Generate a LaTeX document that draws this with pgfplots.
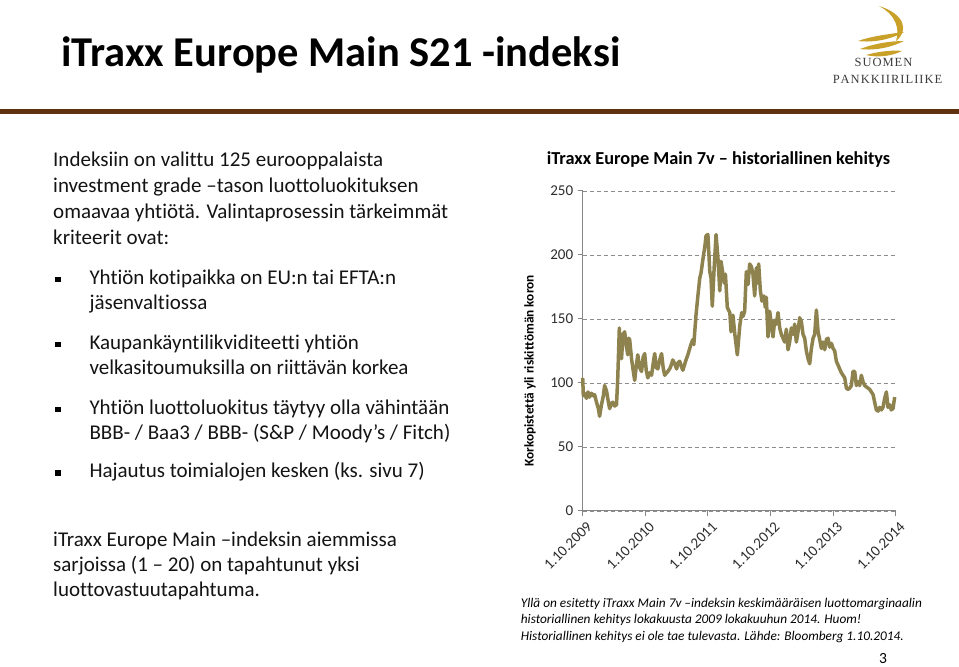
\documentclass[border=0pt]{standalone}
\usepackage{fontspec}
\setmainfont{Carlito}[Ligatures=CommonOff]
\newfontfamily\logofont{Liberation Serif}
\usepackage{pgfplots}
\pgfplotsset{compat=1.18}
\definecolor{olive}{RGB}{142,131,78}
\definecolor{gridc}{RGB}{140,140,140}
\definecolor{axisc}{RGB}{134,134,134}
\definecolor{tickc}{RGB}{45,45,45}
\definecolor{rulec}{RGB}{95,50,15}
\definecolor{gold}{RGB}{201,160,40}
\definecolor{logogray}{RGB}{60,60,60}
\begin{document}
\begin{tikzpicture}[x=1pt,y=1pt]
\fill[white] (0,0) rectangle (959,667);
% header
\node[anchor=base west,inner sep=0] at (61,600) {\fontsize{42.5}{48}\selectfont\bfseries iTraxx Europe Main S21 -indeksi};
\fill[rulec] (0,552.5) rectangle (959,557.5);
% logo
\fill[gold] (879,661) .. controls (905,653) and (909,636) .. (896,626) .. controls (900,638) and (896,652) .. (879,661) -- cycle;
\fill[gold] (858,626) .. controls (872,631) and (890,633) .. (904,635) .. controls (892,628) and (874,624) .. (858,626) -- cycle;
\fill[gold] (860,618) .. controls (876,624) and (892,626) .. (904,626) .. controls (892,620) and (876,616) .. (860,618) -- cycle;
\fill[gold] (866,612) .. controls (880,616) and (894,617) .. (902,616) .. controls (892,611) and (878,609) .. (866,612) -- cycle;
\node[anchor=base,inner sep=0,text=logogray] at (883.5,600) {\logofont\fontsize{12.5}{13}\selectfont S\kern1pt U\kern1pt O\kern1pt M\kern1pt E\kern1pt N};
\node[anchor=base,inner sep=0,text=logogray] at (887.5,583.5) {\logofont\fontsize{12.5}{13}\selectfont P\kern1pt A\kern1pt N\kern1pt K\kern1pt K\kern1pt I\kern1pt I\kern1pt R\kern1pt I\kern1pt L\kern1pt I\kern1pt I\kern1pt K\kern1pt E};
% body text
\begin{scope}[every node/.style={anchor=base west,inner sep=0,font=\fontsize{21}{24}\selectfont,text={rgb,255:red,20;green,20;blue,20}}]
\node at (53,500) {Indeksiin on valittu 125 eurooppalaista};
\node at (53,474) {investment grade –tason luottoluokituksen};
\node at (53,448) {omaavaa yhtiötä. Valintaprosessin tärkeimmät};
\node at (53,422) {kriteerit ovat:};
\node at (89.3,382) {Yhtiön kotipaikka on EU:n tai EFTA:n};
\node at (89.3,357) {jäsenvaltiossa};
\node at (89.3,317) {Kaupankäyntilikviditeetti yhtiön};
\node at (89.3,292) {velkasitoumuksilla on riittävän korkea};
\node at (89.3,252) {Yhtiön luottoluokitus täytyy olla vähintään};
\node at (89.3,227) {BBB- / Baa3 / BBB- (S\&P / Moody’s / Fitch)};
\node at (89.3,189) {Hajautus toimialojen kesken (ks. sivu 7)};
\node at (53,120.3) {iTraxx Europe Main –indeksin aiemmissa};
\node at (53,95.3) {sarjoissa (1 – 20) on tapahtunut yksi};
\node at (53,70.3) {luottovastuutapahtuma.};
\end{scope}
\foreach \yy in {384.5,319.5,254.5,191} {\fill[black] (55,\yy) rectangle (60.5,\yy+5.5);}
% chart title and label
\node[anchor=base,inner sep=0] at (718.5,502.7) {\fontsize{18.3}{20}\selectfont\bfseries iTraxx Europe Main 7v – historiallinen kehitys};
\node[rotate=90,inner sep=0] at (530,296) {\fontsize{13.3}{15}\selectfont\bfseries Korkopistettä yli riskittömän koron};
% chart
\begin{axis}[at={(582.7pt,156pt)}, anchor=south west, scale only axis,
  width=313pt, height=320pt,
  xmin=0, xmax=5, ymin=0, ymax=250,
  xtick={0,1,2,3,4,5},
  xticklabels={1.10.2009,1.10.2010,1.10.2011,1.10.2012,1.10.2013,1.10.2014},
  ytick={0,50,100,150,200,250},
  axis x line*=bottom, axis y line*=left,
  axis line style={axisc, line width=1pt, -},
  tick align=outside, major tick length=5pt,
  tick style={axisc, line width=1pt},
  ymajorgrids, major grid style={gridc, line width=0.9pt, dash pattern=on 4pt off 3pt},
  /pgf/number format/assume math mode=true,
  ticklabel style={text=tickc},
  yticklabel style={font=\fontsize{15}{17}\selectfont, xshift=-1pt},
  xticklabel style={font=\fontsize{15}{17}\selectfont, rotate=45, anchor=north east, inner sep=1pt, yshift=-4.5pt},
  clip=false]
\addplot[olive, line width=3.5pt, line join=round] coordinates {
(0.00,104) (0.01,90) (0.03,92) (0.06,88) (0.085,93) (0.11,89) (0.14,92) (0.17,90) (0.19,91)
(0.22,85) (0.25,80) (0.27,74) (0.30,83) (0.33,90) (0.35,98) (0.38,94) (0.40,88) (0.43,80)
(0.46,84) (0.48,85) (0.51,82) (0.54,83) (0.56,104) (0.585,143) (0.60,125) (0.62,119)
(0.645,138) (0.67,140) (0.70,128) (0.72,122) (0.735,135) (0.75,134) (0.78,119) (0.80,112)
(0.83,102) (0.86,115) (0.88,122) (0.91,112) (0.94,109) (0.965,120) (0.99,123) (1.015,110)
(1.04,104) (1.07,108) (1.10,106) (1.125,115) (1.15,123) (1.175,112) (1.20,111) (1.23,118)
(1.26,123) (1.285,112) (1.31,106) (1.34,108) (1.36,109) (1.40,112) (1.44,118) (1.47,115)
(1.50,111) (1.525,116) (1.55,117) (1.575,113) (1.60,110) (1.625,114) (1.65,118) (1.68,122)
(1.71,127) (1.735,131) (1.76,134) (1.775,130) (1.79,140) (1.81,153) (1.84,168) (1.87,182)
(1.89,186) (1.91,193) (1.93,200) (1.95,206) (1.97,215) (2.00,216) (2.03,187) (2.05,182)
(2.07,160) (2.10,190) (2.13,216) (2.16,198) (2.19,172) (2.21,195) (2.24,185) (2.26,178)
(2.28,185) (2.31,159) (2.35,155) (2.37,140) (2.40,153) (2.43,138) (2.47,122) (2.51,145)
(2.54,155) (2.56,152) (2.587,156) (2.614,187) (2.641,177) (2.667,193) (2.694,191) (2.72,185)
(2.747,168) (2.774,190) (2.80,178) (2.811,193) (2.838,172) (2.864,164) (2.896,168) (2.917,159)
(2.933,167) (2.96,136) (2.987,156) (3.013,146) (3.04,136) (3.067,149) (3.093,146) (3.12,155)
(3.147,143) (3.173,138) (3.226,132) (3.253,142) (3.28,126) (3.306,132) (3.333,143) (3.36,138)
(3.386,146) (3.413,132) (3.44,140) (3.466,151) (3.493,148) (3.52,138) (3.546,135) (3.573,125)
(3.60,119) (3.626,115) (3.653,127) (3.68,135) (3.706,138) (3.733,157) (3.76,140) (3.786,134)
(3.813,127) (3.839,132) (3.866,126) (3.893,134) (3.919,135) (3.946,128) (3.973,131) (4.00,127)
(4.026,125) (4.052,117) (4.079,114) (4.105,111) (4.132,108) (4.159,106) (4.186,104) (4.212,96)
(4.239,95) (4.265,96) (4.292,98) (4.318,109) (4.345,109) (4.372,98) (4.398,101) (4.425,98)
(4.451,106) (4.478,101) (4.505,98) (4.531,97) (4.558,96) (4.585,95) (4.611,93) (4.638,91)
(4.664,85) (4.691,79) (4.718,78) (4.744,81) (4.771,79) (4.797,81) (4.824,88) (4.851,93)
(4.877,81) (4.904,83) (4.93,79) (4.957,80) (4.984,89)
};
\end{axis}
% caption
\begin{scope}[every node/.style={anchor=base west,inner sep=0,font=\fontsize{13.3}{15}\selectfont\itshape}]
\node at (520.7,59.3) {Yllä on esitetty iTraxx Main 7v –indeksin keskimääräisen luottomarginaalin};
\node at (520.7,43) {historiallinen kehitys lokakuusta 2009 lokakuuhun 2014. Huom!};
\node at (520.7,27) {Historiallinen kehitys ei ole tae tulevasta. Lähde: Bloomberg 1.10.2014.};
\end{scope}
\node[anchor=base,inner sep=0] at (883,3) {\fontsize{15.5}{17}\selectfont 3};
\end{tikzpicture}
\end{document}
